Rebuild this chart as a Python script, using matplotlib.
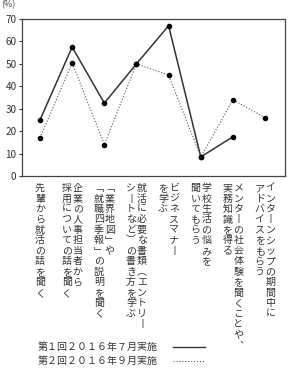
import numpy as np
import matplotlib
matplotlib.use("Agg")
import matplotlib.pyplot as plt
import matplotlib.transforms as mtransforms

plt.rcParams['font.family'] = ['Noto Sans CJK JP', 'DejaVu Sans']

# カテゴリ(縦書き, 1要素=1列)
categories = [
    ["先輩から就活の話を聞く"],
    ["企業の人事担当者から", "採用についての話を聞く"],
    ["「業界地図」や", "「就職四季報」の説明を聞く"],
    ["就活に必要な書類（エントリー", "シートなど）の書き方を学ぶ"],
    ["ビジネスマナー", "を学ぶ"],
    ["学校生活の悩みを", "聞いてもらう"],
    ["メンターの社会体験を聞くことや、", "実務知識を得る"],
    ["インターンシップの期間中に", "アドバイスをもらう"],
]
series1 = [25, 57.5, 32.5, 50, 67, 8.5, 17.5, np.nan]
series2 = [17, 50.5, 14, 50, 45, 8.5, 34, 26]
label1 = "第１回２０１６年７月実施"
label2 = "第２回２０１６年９月実施"
yticks = [0, 10, 20, 30, 40, 50, 60, 70]

# 縦書き用の字形
vert_map = {"ー": "丨", "「": "﹁", "」": "﹂", "（": "︵", "）": "︶", "、": "︑"}

def vertical(s):
    return "\n".join(vert_map.get(c, c) for c in s)

fig = plt.figure(figsize=(2.88, 3.75), dpi=100)
ax = fig.add_axes([0.0764, 0.5307, 0.9132, 0.4186])

x = np.arange(len(categories))
ax.plot(x, series1, "-", color="#333333", lw=1.1, marker="o", ms=3.0,
        mfc="black", mec="black", zorder=3)
ax.plot(x, series2, ":", color="#555555", lw=0.8, marker="o", ms=3.0,
        mfc="black", mec="black", zorder=3)

ax.set_xlim(-0.56, 7.62)
ax.set_ylim(0, 70)
ax.set_yticks(yticks)
ax.set_xticks([])
ax.tick_params(axis="y", direction="out", length=2, width=0.8,
               labelsize=7.2, pad=2, colors="#333333")
for sp in ax.spines.values():
    sp.set_color("#444444")
    sp.set_linewidth(0.9)

fig.text(1 / 288, 1.0, "(%)", fontsize=6.5, color="#444444",
         ha="left", va="top")

# 縦書きラベル
col_gap = 11  # px
for i, cols in enumerate(categories):
    n = len(cols)
    for j, line in enumerate(cols):
        dx = ((n - 1) / 2 - j) * col_gap
        tr = mtransforms.blended_transform_factory(ax.transData, ax.transAxes)
        tr = tr + mtransforms.ScaledTranslation(dx / 100, 0, fig.dpi_scale_trans)
        ax.text(i, -0.045, vertical(line), transform=tr, fontsize=7.2,
                ha="center", va="top", multialignment="center",
                linespacing=1.06, color="#333333")

# 凡例
fig.text(158 / 288, 1 - 347 / 375, label1, fontsize=7.2, ha="right",
         va="center", color="#333333")
fig.text(158 / 288, 1 - 361 / 375, label2, fontsize=7.2, ha="right",
         va="center", color="#333333")
fig.add_artist(plt.Line2D([173 / 288, 205 / 288], [1 - 347 / 375] * 2,
                          color="#333333", lw=1.0))
fig.add_artist(plt.Line2D([173 / 288, 205 / 288], [1 - 361 / 375] * 2,
                          color="#555555", lw=0.8, ls=":"))

fig.savefig("out.png", dpi=100)
